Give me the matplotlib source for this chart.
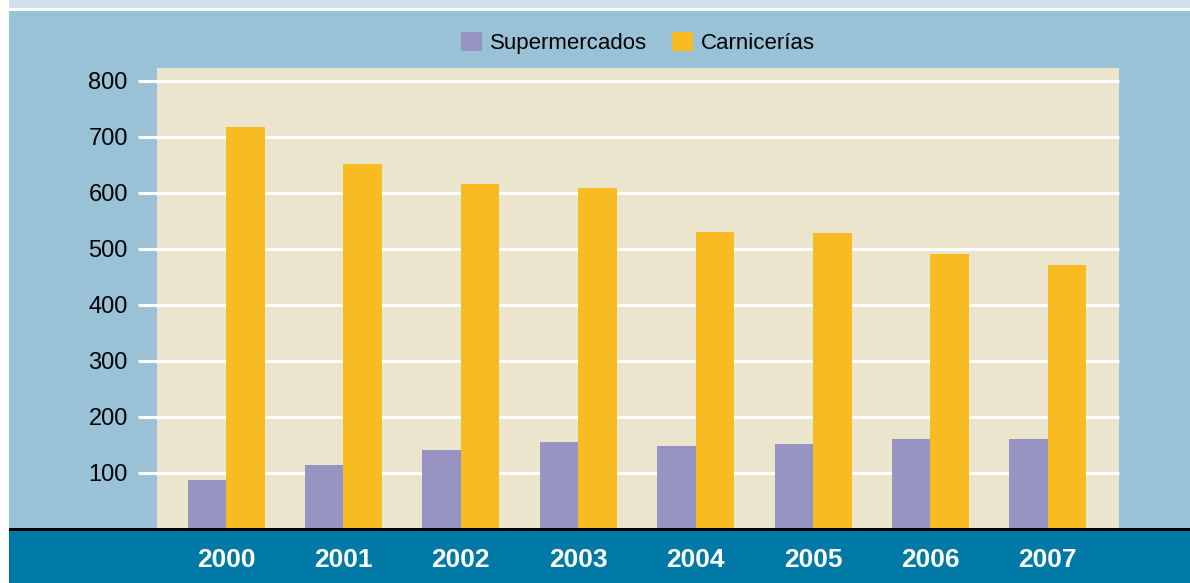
import matplotlib

matplotlib.use("Agg")
import matplotlib.pyplot as plt
from matplotlib.patches import Rectangle
import numpy as np

years = ["2000", "2001", "2002", "2003", "2004", "2005", "2006", "2007"]
supermercados = [88, 114, 141, 155, 148, 152, 161, 161]
carnicerias = [718, 652, 616, 609, 530, 529, 491, 471]
y_ticks = [100, 200, 300, 400, 500, 600, 700, 800]

W, H = 1190, 583
c_bg = "#9ac2d6"
c_plot = "#ebe5cd"
c_purple = "#9794c3"
c_orange = "#f9bb22"
c_band = "#0079a6"

fig = plt.figure(figsize=(W / 100, H / 100), dpi=100, facecolor=c_bg)


def px_rect(x0, y0, x1, y1, color, z=0):
    # rectangle in pixel coords (origin top-left)
    fig.patches.append(Rectangle((x0 / W, 1 - y1 / H), (x1 - x0) / W, (y1 - y0) / H,
                                 transform=fig.transFigure, facecolor=color,
                                 edgecolor="none", zorder=z))


px_rect(0, 0, W, 8, "#cfe0ea")
px_rect(0, 8, W, 11, "white")
px_rect(0, 0, 9, H, "white")
px_rect(9, 531, W, H, c_band)
px_rect(9, 528, W, 531, "black", z=5)

ax = fig.add_axes([157 / W, 1 - 529 / H, (1119 - 157) / W, (529 - 68) / H])
ax.set_zorder(2)
ax.set_facecolor(c_plot)

x = np.arange(len(years))
bw = 0.328
ax.bar(x - bw / 2, supermercados, width=bw, color=c_purple, label="Supermercados", zorder=3)
ax.bar(x + bw / 2, carnicerias, width=bw, color=c_orange, label="Carnicerías", zorder=3)

for v in y_ticks:
    ax.axhline(v, xmin=-0.02, xmax=1, color="white", lw=2.2, clip_on=False,
               solid_capstyle="butt", zorder=1)

ax.set_xlim(-0.588, 7.606)
ax.set_ylim(0, 823)
ax.set_yticks(y_ticks)
ax.set_yticklabels([str(v) for v in y_ticks], fontsize=17, family="Liberation Sans")
ax.set_xticks(x)
ax.set_xticklabels(years, fontsize=19, fontweight="bold", color="white",
                   family="Liberation Sans")
ax.tick_params(axis="y", length=0, pad=21)
ax.tick_params(axis="x", length=0, pad=14)
for s in ax.spines.values():
    s.set_visible(False)

leg = fig.legend(loc="center", bbox_to_anchor=(638 / W, 1 - 43 / H), ncol=2,
                 frameon=False, handlelength=0.95, handleheight=0.95,
                 handletextpad=0.35, columnspacing=1.1,
                 prop={"family": "Liberation Sans", "size": 16})

fig.savefig("out.png", dpi=100, facecolor=c_bg)
